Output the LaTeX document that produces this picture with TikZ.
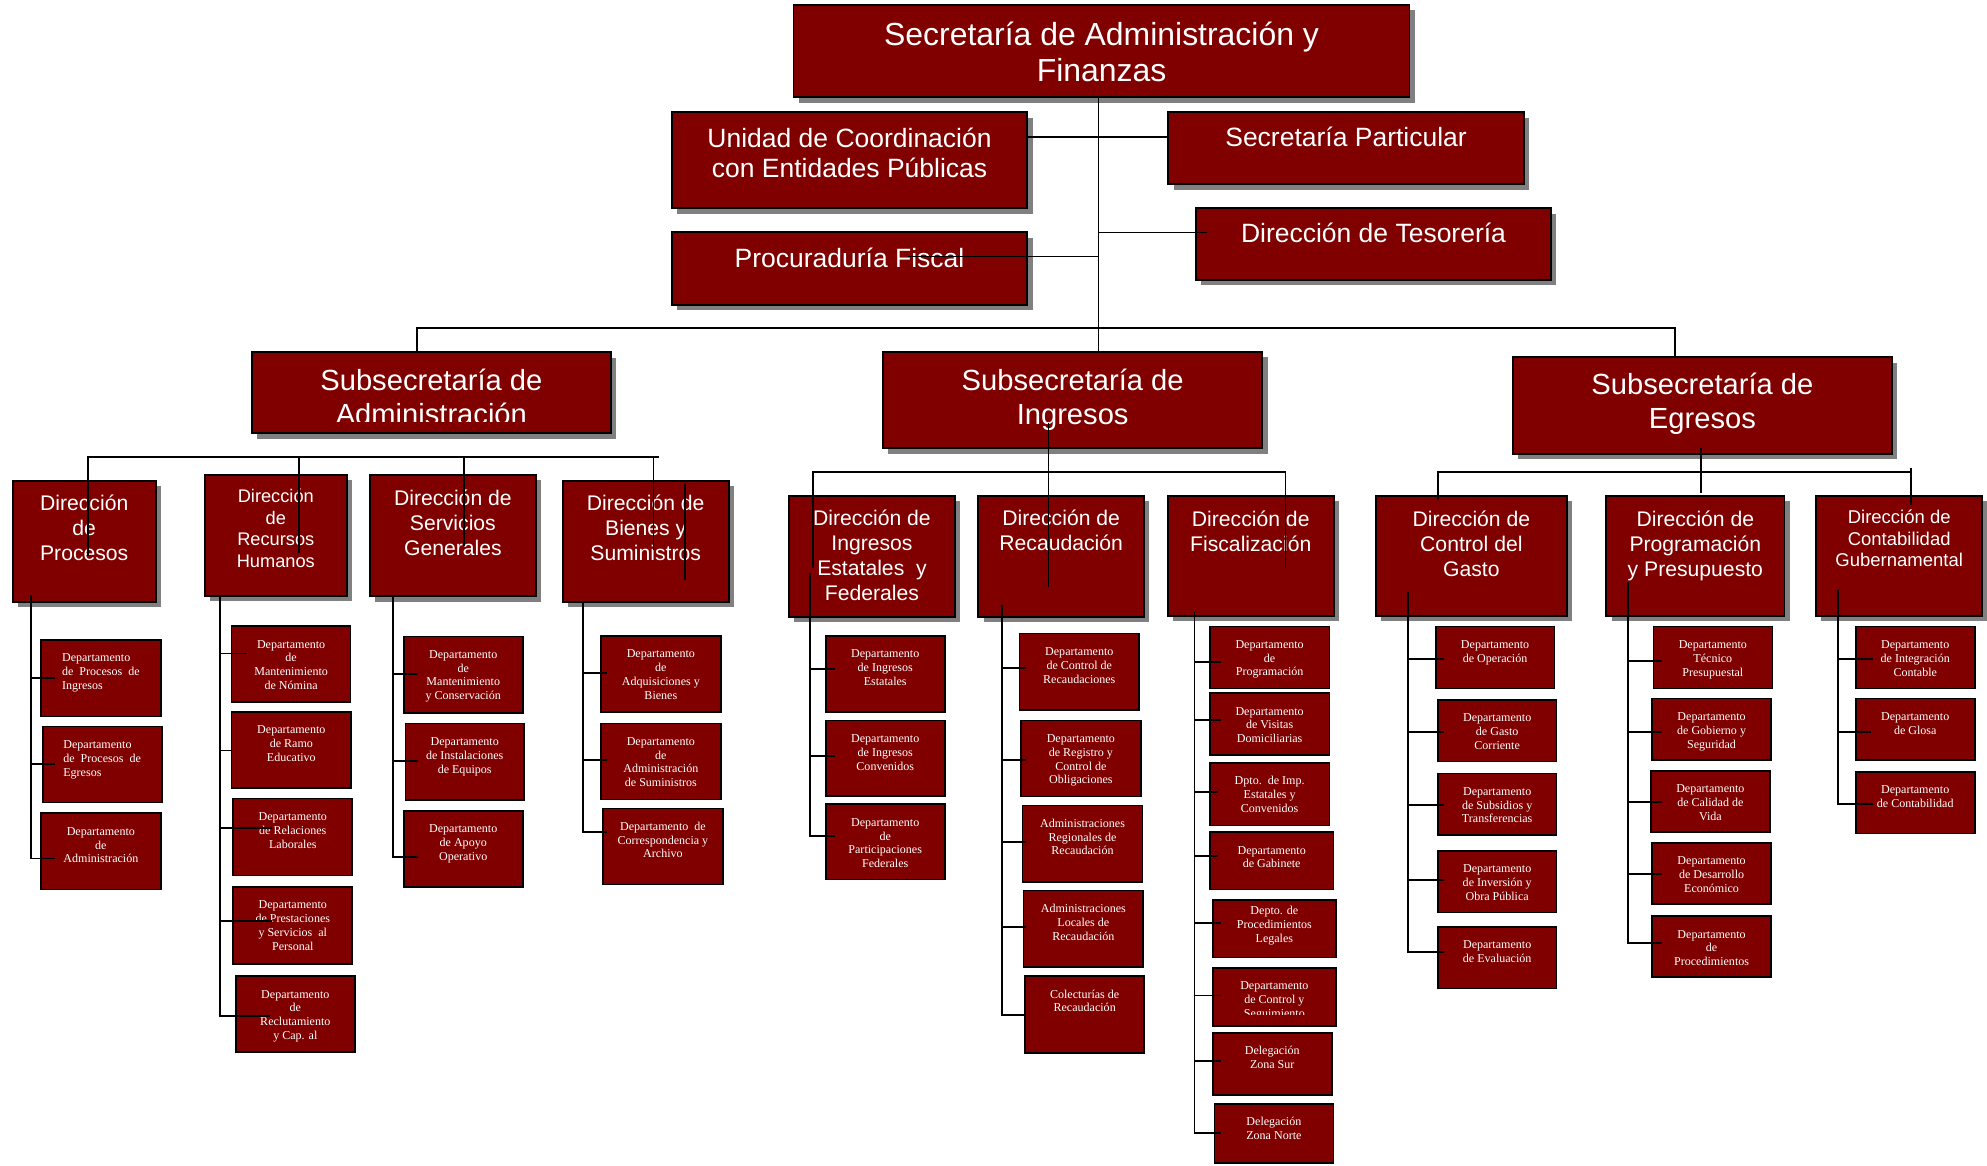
\documentclass[tikz,border=0pt]{standalone}
\usepackage{fontspec}
\setmainfont{Liberation Serif}
\newfontfamily\arialfont{Liberation Sans}
\usetikzlibrary{calc}

\definecolor{boxred}{HTML}{800000}
\definecolor{boxshadow}{HTML}{808080}

\tikzset{
  unitbox/.style={draw=black, fill=boxred, line width=1.5pt, inner sep=0pt, outer sep=0pt,
    preaction={draw=none, fill=boxshadow, transform canvas={shift={(4.2pt,-4.2pt)}}}},
  deptbox/.style={draw=black, fill=boxred, line width=1.3pt, inner sep=0pt, outer sep=0pt},
  boxlabel/.style={text=white, align=center, inner sep=0pt, outer sep=0pt},
  fTop/.style={font=\arialfont\fontsize{25.2}{28.2}\selectfont},
  fUnit/.style={font=\arialfont\fontsize{20.9}{24}\selectfont},
  fSub/.style={font=\arialfont\fontsize{23}{26.8}\selectfont},
  fDir/.style={font=\arialfont\fontsize{16.7}{19.7}\selectfont},
  fDirS/.style={font=\arialfont\fontsize{14.4}{17}\selectfont},
  fDirC/.style={font=\arialfont\fontsize{14.6}{16.8}\selectfont},
  fDept/.style={font=\fontsize{9.5}{10.9}\selectfont},
  link/.style={draw=black, line width=1.5pt},
  toplink/.style={draw=black, line width=1.1pt},
}

% box node from its corners: style, name, x1, y1, x2, y2
\newcommand{\orgbox}[6]{%
  \node[#1, minimum width={(#5)-(#3)}, minimum height={(#6)-(#4)}] (#2)
    at ({((#3)+(#5))/2},{((#4)+(#6))/2}) {};}
% caption hanging from the top edge of a box: options, box, drop, font style, text
\newcommand{\orgtext}[5][]{%
  \node[boxlabel, #4, anchor=north, #1] (t#2) at ([yshift=-#3pt]#2.north)
    {\rule{0pt}{0.8em}#5};}
% department box with its connector end point
\newcommand{\dept}[9][]{%
  \orgbox{deptbox}{#2}{#3}{#4}{#5}{#6}%
  \orgtext[#1]{#2}{9.7}{fDept}{#7}%
  \coordinate (c#2) at (#9,#8);}
% spine with its branches: spine, last department, other departments
\newcommand{\branch}[3]{%
  \draw[link] (#1) |- (c#2);
  \foreach \d in {#3}{\draw[link] (#1 |- c\d) -- (c\d);}}

\begin{document}
\begin{tikzpicture}[x=1pt, y=-1pt]
\useasboundingbox (0,0) rectangle (1568,920);
\fill[white] (0,0) rectangle (1568,920);

% ---- top level
\orgbox{unitbox}{secadm}{626.2}{3.9}{1112.3}{76.8}
\orgtext{secadm}{12.2}{fTop}{Secretaría de Administración y\\Finanzas}
\orgbox{unitbox}{uni}{530.2}{88.6}{810.6}{164.4}
\orgtext{uni}{11}{fUnit}{Unidad de Coordinación\\con Entidades Públicas}
\orgbox{unitbox}{spar}{922}{88.6}{1202.4}{145.5}
\orgtext{spar}{10.4}{fUnit}{Secretaría Particular}
\orgbox{unitbox}{proc}{530.2}{183.3}{810.6}{240.7}
\orgtext{proc}{11}{fUnit}{Procuraduría Fiscal}
\orgbox{unitbox}{teso}{943.7}{164.4}{1224}{221}
\orgtext{teso}{10.1}{fUnit}{Dirección de Tesorería}

% ---- undersecretariats
\orgbox{unitbox}{subA}{198.6}{278}{482.2}{342}
\begin{scope}
  \clip (198.6,278) rectangle (482.2,332.6);
  \orgtext{subA}{11.9}{fSub}{Subsecretaría de\\Administración}
\end{scope}
\orgbox{unitbox}{subI}{696.8}{277.5}{996.1}{353.8}
\orgtext{subI}{11.9}{fSub}{Subsecretaría de\\Ingresos}
\orgbox{unitbox}{subE}{1193.9}{282}{1492.9}{358.3}
\orgtext{subE}{11.3}{fSub}{Subsecretaría de\\Egresos}

% ---- directorates
\orgbox{unitbox}{dPro}{10}{379.3}{122.9}{474.8}
\orgtext{dPro}{10.3}{fDir}{Dirección\\de\\Procesos}
\orgbox{unitbox}{dRH}{161.5}{374.8}{273.8}{470.3}
\orgtext{dRH}{10.3}{fDirS}{Dirección\\de\\Recursos\\Humanos}
\orgbox{unitbox}{dSG}{292}{374.8}{422.8}{470.5}
\orgtext{dSG}{10.8}{fDir}{Dirección de\\Servicios\\Generales}
\orgbox{unitbox}{dBS}{444.1}{379.3}{575}{474.8}
\orgtext{dBS}{10.3}{fDir}{Dirección de\\Bienes y\\Suministros}
\orgbox{unitbox}{dIE}{622.6}{391.2}{753.6}{486.6}
\orgtext{dIE}{10.5}{fDir}{Dirección de\\Ingresos\\Estatales\ \ y\\Federales}
\orgbox{unitbox}{dRC}{772}{391.2}{902.8}{486.6}
\orgtext{dRC}{10.5}{fDir}{Dirección de\\Recaudación}
\orgbox{unitbox}{dFI}{921.6}{391.4}{1052.4}{486.1}
\orgtext{dFI}{10.5}{fDir}{Dirección de\\Fiscalización}
\orgbox{unitbox}{dCG}{1085.9}{391.4}{1236.3}{486.1}
\orgtext{dCG}{10.5}{fDir}{Dirección de\\Control del\\Gasto}
\orgbox{unitbox}{dPP}{1267.5}{391.4}{1408.2}{486.1}
\orgtext{dPP}{10.5}{fDir}{Dirección de\\Programación\\y Presupuesto}
\orgbox{unitbox}{dCO}{1433.1}{391.2}{1564.3}{486.1}
\orgtext{dCO}{10.6}{fDirC}{Dirección de\\Contabilidad\\Gubernamental}

% ---- departments: Procesos
\dept[align=left,anchor=north west,xshift=-30.6pt]{pr1}{32.4}{505}{126.8}{565.5}{Departamento\\de\enspace Procesos\enspace de\\Ingresos}{534.8}{43.6}
\dept[align=left,anchor=north west,xshift=-30.65pt]{pr2}{33.7}{573.4}{127.6}{633.4}{Departamento\\de\enspace Procesos\enspace de\\Egresos}{603}{43.6}
\dept{pr3}{32.4}{641.8}{126.8}{702}{Departamento\\de\\Administración}{677.5}{43.4}
% Recursos Humanos
\dept{rh1}{182.8}{494.1}{276.7}{554.2}{Departamento\\de\\Mantenimiento\\de Nómina}{515.7}{195.2}
\dept{rh2}{182.8}{561.8}{277}{621.9}{Departamento\\de Ramo\\Educativo}{592.2}{182.8}
\dept{rh3}{184.1}{630.1}{278}{690.8}{Departamento\\de Relaciones\\Laborales}{653.4}{214.4}
\dept{rh4}{184.1}{699.9}{278}{760.6}{Departamento\\de Prestaciones\\y Servicios\ \ al\\Personal}{726.6}{214.4}
\dept{rh5}{186}{770.3}{280.1}{830.4}{Departamento\\de\\Reclutamiento\\y Cap. al}{801.6}{213.1}
% Servicios Generales
\dept{sg1}{318.6}{502.2}{412.5}{562.7}{Departamento\\de\\Mantenimiento\\y Conservación}{532}{329.6}
\dept{sg2}{319.9}{571}{413.5}{631.4}{Departamento\\de Instalaciones\\de Equipos}{600.7}{329.6}
\dept{sg3}{318.6}{639.9}{412.5}{700.2}{Departamento\\de Apoyo\\Operativo}{676.5}{329.6}
% Bienes y Suministros
\dept{bs1}{474.3}{501.9}{568.7}{562}{Departamento\\de\\Adquisiciones y\\Bienes}{531.4}{479.3}
\dept{bs2}{474.3}{570.8}{568.7}{630.8}{Departamento\\de\\Administración\\de Suministros}{599.8}{479.3}
\dept{bs3}{476}{637.9}{570.3}{697.9}{Departamento\ \ de\\Correspondencia y\\Archivo}{656.3}{479.3}
% Ingresos Estatales y Federales
\dept{ie1}{651.6}{501.9}{745.5}{562.1}{Departamento\\de Ingresos\\Estatales}{528.2}{659}
\dept{ie2}{651.6}{568.7}{745.5}{628.2}{Departamento\\de Ingresos\\Convenidos}{596.6}{659}
\dept{ie3}{651.6}{634.7}{745.5}{694}{Departamento\\de\\Participaciones\\Federales}{659.7}{659}
% Recaudación
\dept{rc1}{804.4}{499.9}{899}{560.3}{Departamento\\de Control de\\Recaudaciones}{527.3}{809.7}
\dept{rc2}{805.7}{568.6}{900.2}{628.5}{Departamento\\de Registro y\\Control de\\Obligaciones}{599.8}{809.7}
\dept{rc3}{807}{635.5}{901.5}{696}{Administraciones\\Regionales de\\Recaudación}{664.1}{809.7}
\dept{rc4}{807.8}{702.7}{902}{763.2}{Administraciones\\Locales de\\Recaudación}{731.4}{809.7}
\dept{rc5}{808.9}{770.3}{903}{830.7}{Colecturías de\\Recaudación}{800.7}{809.7}
% Fiscalización
\dept{fi1}{954.8}{494.3}{1049}{543.3}{Departamento\\de\\Programación}{522.6}{963.3}
\dept{fi2}{954.8}{547}{1049}{595.7}{Departamento\\de Visitas\\Domiciliarias}{568}{963.3}
\dept{fi3}{954.8}{601.9}{1049}{651.4}{Dpto.\ \ de Imp.\\Estatales y\\Convenidos}{624.9}{961}
\dept{fi4}{954.8}{656.7}{1052.2}{701.9}{Departamento\\de Gabinete}{675.4}{961}
\dept[yshift=5.8pt]{fi5}{957}{710.2}{1054.3}{755.5}{Depto. de\\Procedimientos\\Legales}{728.4}{963.3}
\orgbox{deptbox}{fi6}{957}{763.8}{1054.3}{809.5}
\begin{scope}
  \clip (957,763.8) rectangle (1054.3,800.4);
  \orgtext{fi6}{9.7}{fDept}{Departamento\\de Control y\\Seguimiento}
\end{scope}
\coordinate (cfi6) at (963.3,785.6);
\dept{fi7}{957}{815.1}{1050.9}{864}{Delegación\\Zona Sur}{837.5}{963.3}
\dept{fi8}{958.3}{871.1}{1052.2}{918}{Delegación\\Zona Norte}{894.1}{963.3}
% Control del Gasto
\dept{cg1}{1133}{494.5}{1226.6}{543.2}{Departamento\\de Operación}{519.8}{1139.5}
\dept{cg2}{1134.5}{552.4}{1228.4}{601}{Departamento\\de Gasto\\Corriente}{577.6}{1139.5}
\dept{cg3}{1134.5}{610.3}{1228.4}{659}{Departamento\\de Subsidios y\\Transferencias}{635.3}{1139.5}
\dept{cg4}{1134.5}{671.3}{1228.4}{720}{Departamento\\de Inversión y\\Obra Pública}{694.4}{1139.5}
\dept{cg5}{1134.5}{731.3}{1228.4}{780}{Departamento\\de Evaluación}{751}{1139.5}
% Programación y Presupuesto
\dept{pp1}{1304.7}{494.5}{1398.6}{543.2}{Departamento\\Técnico\\Presupuestal}{521.6}{1311.8}
\dept{pp2}{1303.7}{551.3}{1397.6}{599.7}{Departamento\\de Gobierno y\\Seguridad}{577.6}{1311.8}
\dept{pp3}{1302.6}{608.4}{1396.8}{656.8}{Departamento\\de Calidad de\\Vida}{633.2}{1311.8}
\dept{pp4}{1303.7}{665}{1397.6}{713.4}{Departamento\\de Desarrollo\\Económico}{690}{1311.8}
\dept{pp5}{1303.7}{722.9}{1397.6}{771.2}{Departamento\\de\\Procedimientos}{744.4}{1311.8}
% Contabilidad Gubernamental
\dept{co1}{1464.4}{494.5}{1558.3}{543.2}{Departamento\\de Integración\\Contable}{519.8}{1477.8}
\dept{co2}{1464.4}{551.3}{1558.3}{599.7}{Departamento\\de Glosa}{577.6}{1476.2}
\dept{co3}{1464.4}{609.2}{1558.3}{657.6}{Departamento\\de Contabilidad}{634.5}{1477.8}

% ---- connectors, top level
\coordinate (sp0) at (866.7,76.8);
\coordinate (tesoIn) at (952.3,183.6);
\coordinate (procIn) at (716.8,202.6);
\draw[toplink] (sp0) -- (sp0 |- subI.north);
\draw[toplink] ([yshift=18.5pt]uni.east) -- ([yshift=18.5pt]uni.east -| spar.west);
\draw[toplink] (sp0 |- tesoIn) -- (tesoIn);
\draw[toplink] (sp0 |- procIn) -- (procIn);

% second level bar
\coordinate (barL) at (329,259);
\coordinate (barR) at (1322,259);
\draw[line width=1.3pt] (barL |- subA.north) -- (barL) -- (barR) -- (barR |- subE.north);

% Administración bar and drops
\coordinate (aL) at (69.4,360.4);
\coordinate (aR) at (519.9,360.4);
\coordinate (aPro) at (69.4,439);
\coordinate (aRH) at (236,436.6);
\coordinate (aSG) at (366.4,431);
\coordinate (aBS) at (515.7,434);
\draw[link] (aPro) -- (aL) -- (aR);
\draw[link] (aRH |- aL) -- (aRH);
\draw[link] (aSG |- aL) -- (aSG);
\draw[link] (aBS |- aL) -- (aBS);
\coordinate (bsA) at (540.6,381.4);
\coordinate (bsB) at (540.6,457.8);
\draw[link] (bsA) -- (bsB);

% Ingresos bar and drops
\coordinate (ingTop) at (827.4,334);
\coordinate (ingBot) at (827.4,463);
\draw[link] (ingTop) -- (ingBot);
\coordinate (iL) at (641.6,372.2);
\coordinate (iR) at (1014.4,372.2);
\coordinate (iLb) at (641.6,448.5);
\coordinate (iRb) at (1014.4,448.5);
\draw[link] (iLb) -- (iL) -- (iR) -- (iRb);

% Egresos bar and drops
\coordinate (eTop) at (1342.5,353.8);
\coordinate (eBot) at (1342.5,389.3);
\draw[link] (eTop) -- (eBot);
\coordinate (eL) at (1135,372.2);
\coordinate (eR) at (1507.7,372.2);
\coordinate (eLb) at (1135,394.6);
\coordinate (eRt) at (1507.7,369.6);
\coordinate (eRb) at (1507.7,398.5);
\draw[link] (eLb) -- (eL) -- (eR);
\draw[link] (eRt) -- (eRb);

% department spines
\coordinate (spPr) at (24.5,469.6);
\coordinate (spRH) at (173.6,470.3);
\coordinate (spSG) at (310.4,470.7);
\coordinate (spBS) at (459.8,474.8);
\coordinate (spIE) at (639.2,452.5);
\coordinate (spRC) at (790.4,477.4);
\coordinate (spFI) at (942.6,482.7);
\coordinate (spCG) at (1111.3,466.9);
\coordinate (spPP) at (1284.5,459);
\coordinate (spCO) at (1450.2,465.6);
\branch{spPr}{pr3}{pr1,pr2}
\branch{spRH}{rh5}{rh1,rh2,rh3,rh4}
\branch{spSG}{sg3}{sg1,sg2}
\branch{spBS}{bs3}{bs1,bs2}
\branch{spIE}{ie3}{ie1,ie2}
\branch{spRC}{rc5}{rc1,rc2,rc3,rc4}
\branch{spFI}{fi8}{fi1,fi2,fi3,fi4,fi5,fi6,fi7}
\branch{spCG}{cg5}{cg1,cg2,cg3,cg4}
\branch{spPP}{pp5}{pp1,pp2,pp3,pp4}
\branch{spCO}{co3}{co1,co2}
\end{tikzpicture}
\end{document}
